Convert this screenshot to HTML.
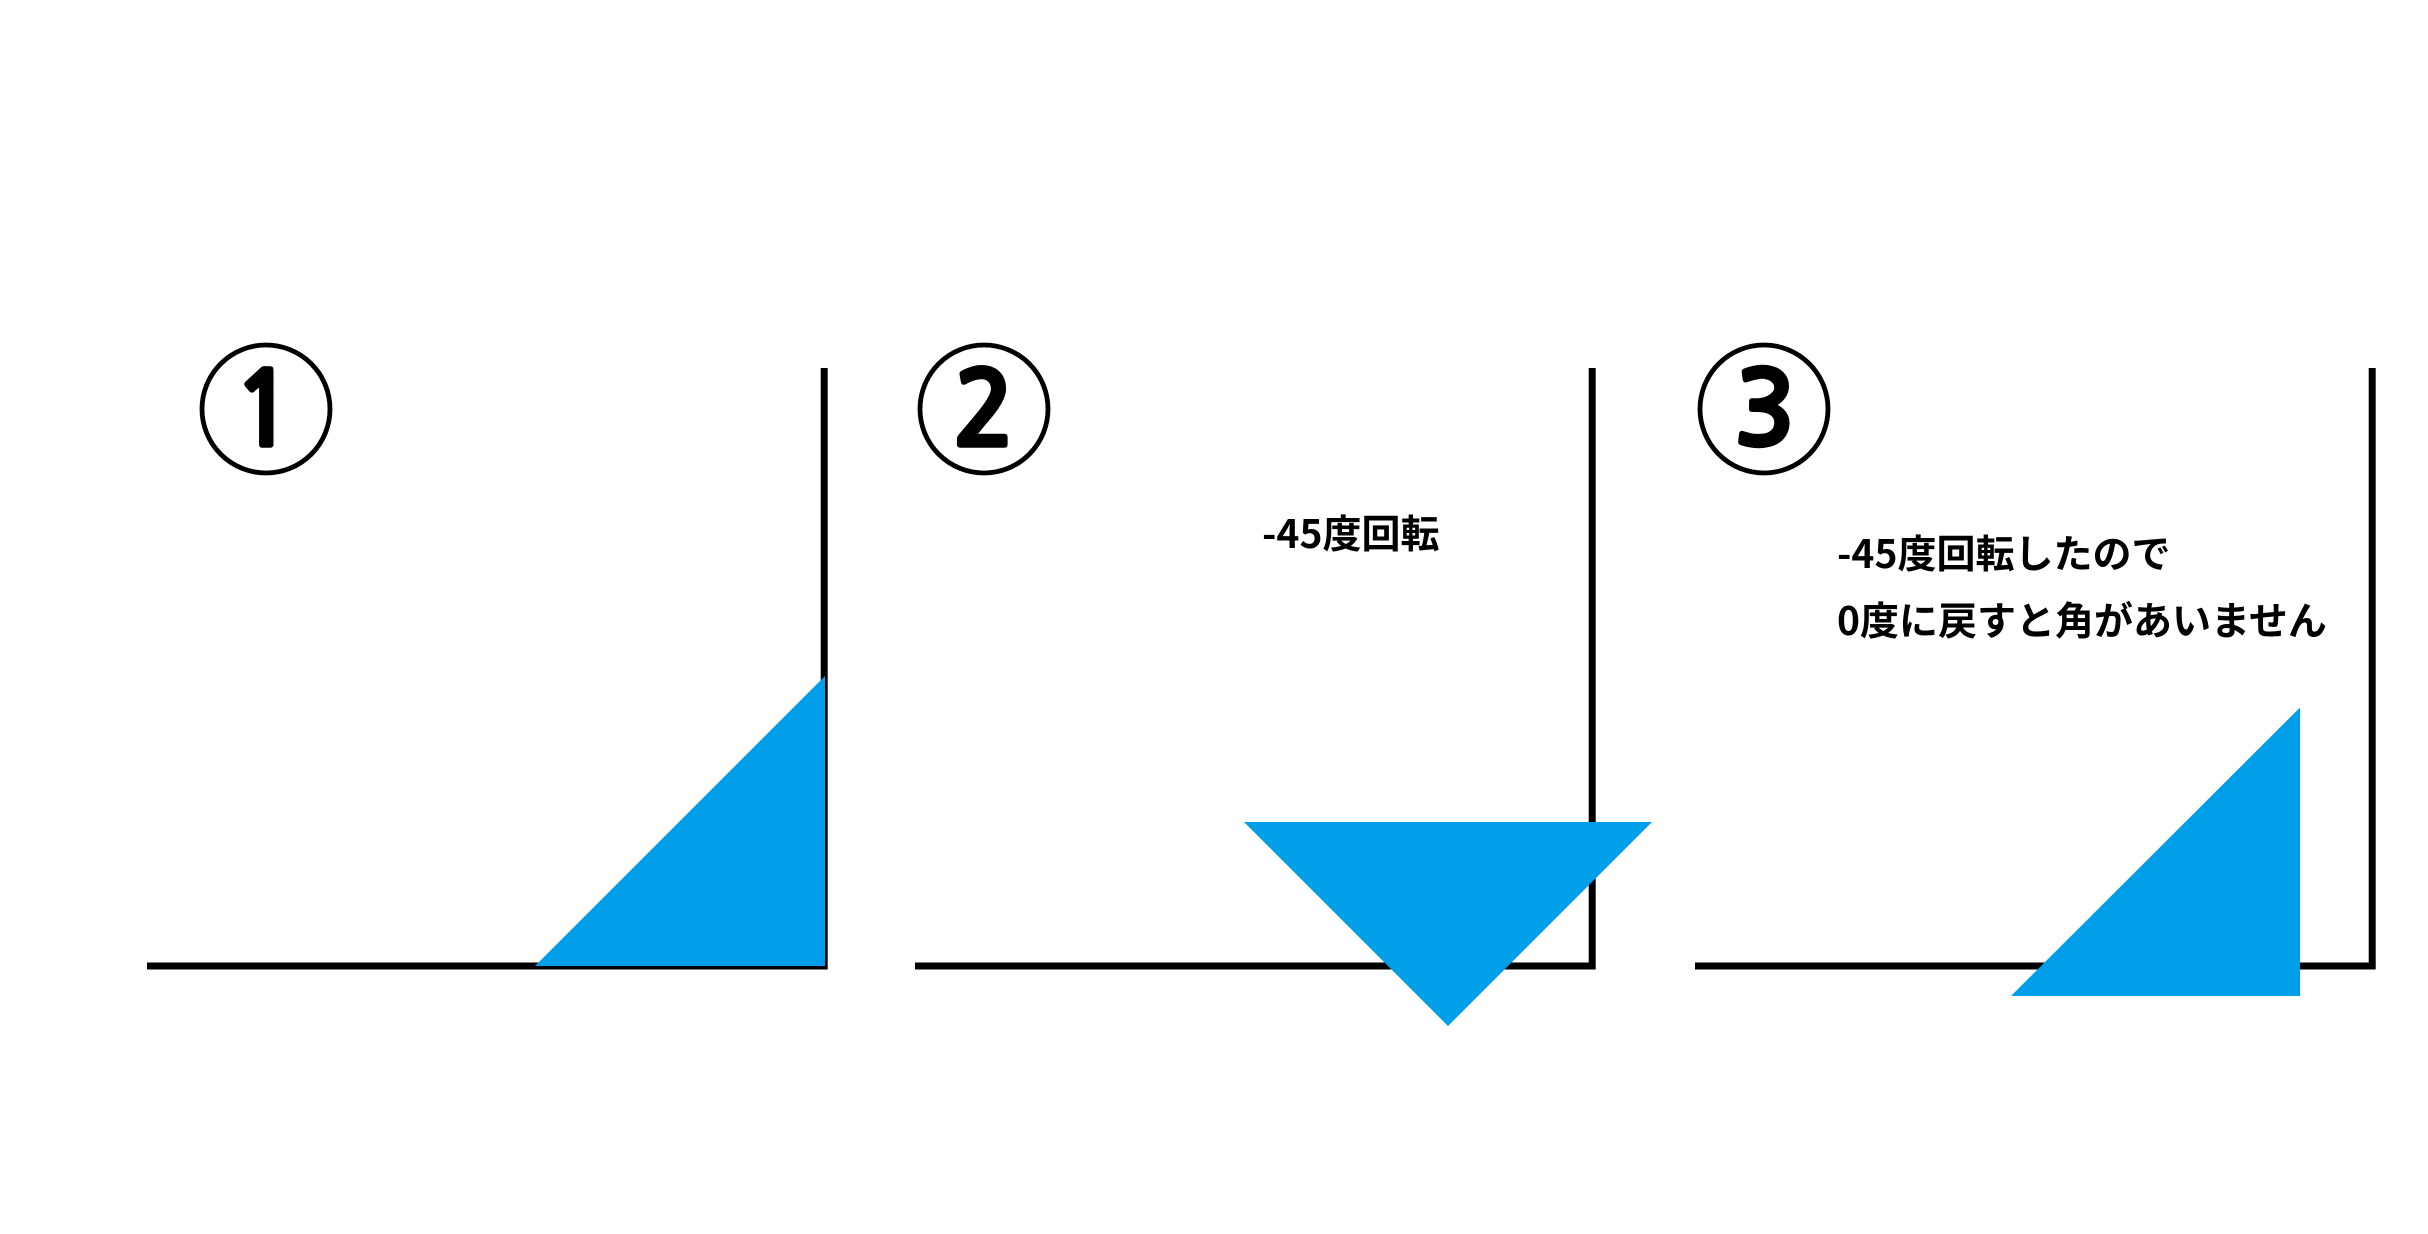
<!DOCTYPE html>
<html lang="ja">
<head>
<meta charset="utf-8">
<style>
html,body{margin:0;padding:0;background:#fff;width:2428px;height:1234px;overflow:hidden}
svg{display:block}
text{font-family:"Liberation Sans","Noto Sans CJK JP",sans-serif;fill:#000}
.t2{font-family:"Noto Sans CJK JP",sans-serif;font-weight:700;font-size:39px}
.n{font-family:"NanumGothic","Noto Sans CJK JP",sans-serif;font-weight:700;font-size:103px;text-anchor:middle;stroke:#000;stroke-width:3.4;stroke-linejoin:miter}
</style>
</head>
<body>
<svg width="2428" height="1234" viewBox="0 0 2428 1234" xmlns="http://www.w3.org/2000/svg">
<rect width="2428" height="1234" fill="#fff"/>

<!-- Panel 1 -->
<path d="M147 966H824.2V368" fill="none" stroke="#000" stroke-width="7"/>
<polygon points="535,966 825,966 825,676" fill="#009de8"/>
<circle cx="266" cy="409" r="64" fill="none" stroke="#000" stroke-width="4.8"/>
<text class="n" x="264" y="445.5">1</text>

<!-- Panel 2 -->
<path d="M915 966H1592.2V368" fill="none" stroke="#000" stroke-width="7"/>
<polygon points="1244,822 1652,822 1448,1026" fill="#009de8"/>
<circle cx="984" cy="409" r="64" fill="none" stroke="#000" stroke-width="4.8"/>
<text class="n" x="984" y="445.5">2</text>
<text class="t2" x="1262" y="548">-45度回転</text>

<!-- Panel 3 -->
<path d="M1695 966H2372.2V368" fill="none" stroke="#000" stroke-width="7"/>
<polygon points="2011,996 2300,996 2300,707.5" fill="#009de8"/>
<circle cx="1764" cy="409" r="64" fill="none" stroke="#000" stroke-width="4.8"/>
<text class="n" x="1765" y="445.5">3</text>
<text class="t2" x="1837" y="568">-45度回転したので</text>
<text class="t2" x="1837" y="635">0度に戻すと角があいません</text>
</svg>
</body>
</html>
